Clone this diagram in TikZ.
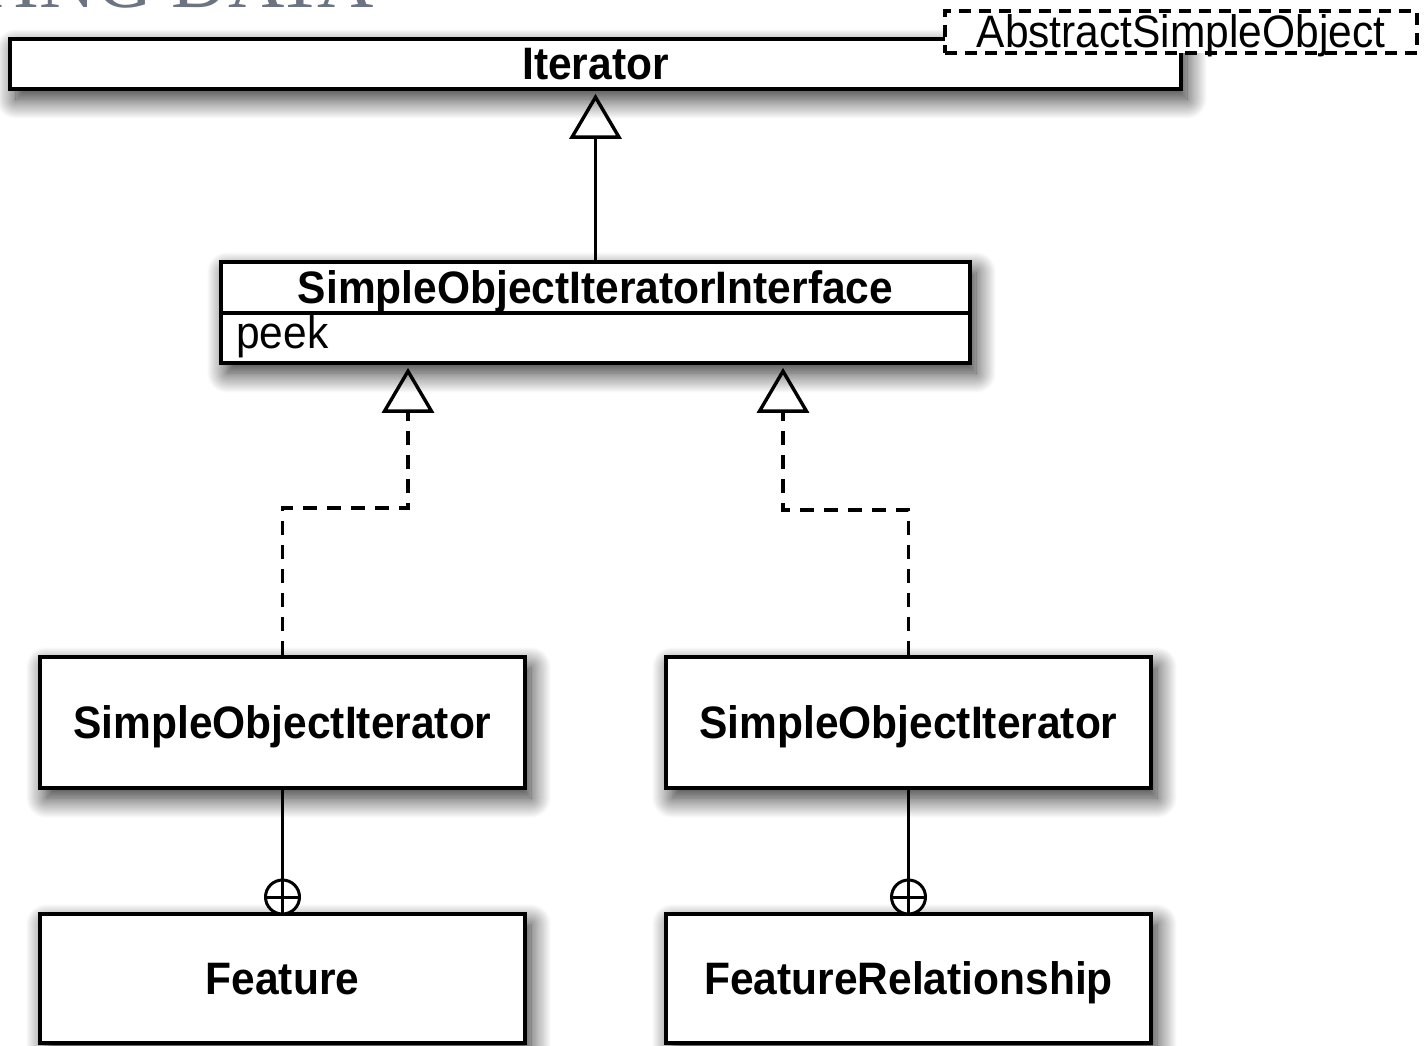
\documentclass[tikz,border=0pt]{standalone}
\usepackage{fontspec}
\usepackage{graphicx}
\setmainfont{Liberation Sans}
\newfontfamily\titlefont{Liberation Serif}
\usetikzlibrary{arrows.meta,shadows.blur}
\definecolor{titlegray}{RGB}{108,116,130}
\newcommand\talltext[1]{\scalebox{1}[1.07]{#1}}
\tikzset{
  boxshadow/.style={blur shadow={shadow xshift=6pt, shadow yshift=-10pt, shadow blur radius=20pt, shadow blur steps=20, shadow opacity=85}},
  umlbox/.style={draw, line width=3.6pt, fill=white, inner sep=0pt,
    font=\fontsize{42.5}{50}\selectfont\bfseries, text height=32pt, text depth=0pt, boxshadow},
  nametext/.style={inner sep=0pt, font=\fontsize{42.5}{50}\selectfont\bfseries, text height=32pt, text depth=0pt},
  optext/.style={inner sep=0pt, font=\fontsize{42.5}{50}\selectfont},
  tmplbox/.style={draw, line width=3.4pt, dash pattern=on 12pt off 8pt, fill=white, inner sep=0pt,
    font=\fontsize{42.5}{50}\selectfont, text height=32pt, text depth=0pt},
  gentip/.style={-{Triangle[open, width=52pt, length=45pt, line width=3.4pt]}, shorten >=3pt},
  gen/.style={line width=3pt, gentip},
  real/.style={line width=3.4pt, dash pattern=on 14pt off 10pt, gentip},
  conn/.style={line width=3pt},
  nest/.style={circle, draw, line width=3pt, minimum size=34pt, inner sep=0pt, fill=white},
  titletext/.style={inner sep=0pt, text=titlegray, font=\titlefont\fontsize{78}{80}\selectfont}
}
\begin{document}
\begin{tikzpicture}[x=1pt,y=-1pt]
\useasboundingbox (0,0) rectangle (1428,1046);
\clip (0,0) rectangle (1428,1046);

\node[titletext, anchor=base west] (title) at (-34,8) {TING DATA};

% Iterator
\node[umlbox, minimum width=1171pt, minimum height=50pt] (it) at (595.5,64) {\talltext{Iterator}};
% template parameter
\node[tmplbox, minimum width=472pt, minimum height=42pt] (tpl) at (1181,32) {\talltext{AbstractSimpleObject}};

% SimpleObjectIteratorInterface
\node[umlbox, minimum width=749pt, minimum height=101pt] (soii) at (595.5,312.5) {};
\node[nametext] (soiiname) at (595.5,287) {\talltext{SimpleObjectIteratorInterface}};
\coordinate (div) at (0,313);
\draw[line width=3.6pt] (soii.west |- div) -- (soii.east |- div);
\node[optext, anchor=base west] (peek) at (236,348) {\talltext{peek}};

% iterators
\node[umlbox, minimum width=485pt, minimum height=131pt] (sil) at (282.5,722.5) {\talltext{SimpleObjectIterator}};
\node[umlbox, minimum width=485pt, minimum height=131pt] (sir) at (908.5,722.5) {\talltext{SimpleObjectIterator}};

% nested classes
\node[umlbox, minimum width=485pt, minimum height=129pt] (feat) at (282.5,978.5) {\talltext{Feature}};
\node[umlbox, minimum width=485pt, minimum height=129pt] (frel) at (908.5,978.5) {\talltext{FeatureRelationship}};

% generalization
\draw[gen] (soii.north) -- (it.south);

% realizations
\coordinate (lb) at (408,508);
\coordinate (rb) at (783,510);
\draw[real] (sil.north) |- (lb) -- (lb |- soii.south);
\draw[real] (sir.north) |- (rb) -- (rb |- soii.south);

% nesting
\node[nest] (nl) at (282.5,897) {};
\node[nest] (nr) at (908.5,897) {};
\draw[conn] (sil.south) -- (nl.north);
\draw[conn] (nl.north) -- (nl.south);
\draw[conn] (nl.west) -- (nl.east);
\draw[conn] (sir.south) -- (nr.north);
\draw[conn] (nr.north) -- (nr.south);
\draw[conn] (nr.west) -- (nr.east);
\end{tikzpicture}
\end{document}
